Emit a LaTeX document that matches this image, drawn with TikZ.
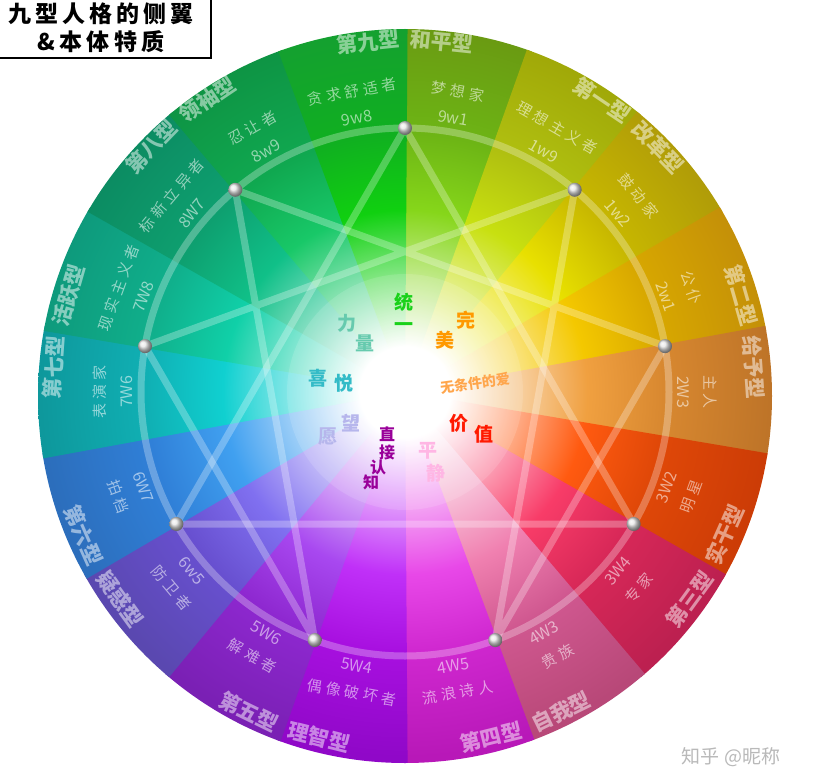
\documentclass[tikz,border=0pt]{standalone}
\usepackage{fontspec}
\newfontfamily\cjk{Noto Sans CJK SC}
\newfontfamily\cjkls[LetterSpace=26]{Noto Sans CJK SC}
\newfontfamily\cjkt[LetterSpace=18]{Noto Sans CJK SC}
\usetikzlibrary{calc}
\colorlet{wa}{white}\colorlet{wb}{white}\colorlet{wc}{white}
\pgfdeclareradialshading[wa,wb,wc]{wshade}{\pgfpoint{0bp}{0bp}}{%
  color(0bp)=(white); color(3bp)=(white); color(12bp)=(wa); color(17bp)=(wb); color(24bp)=(wc); color(50bp)=(wc)}
\newcommand\wedgeF[4]{%
  \definecolor{wa}{HTML}{#2}\definecolor{wb}{HTML}{#3}\definecolor{wc}{HTML}{#4}%
  \begin{scope}
    \clip (C) -- +({#1-90.4}:900) -- +({#1-69.6}:900) -- cycle;
    \shade[shading=wshade] (C) circle (380);
  \end{scope}}
\newcommand\wing[5]{%
  \node[wcode, rotate=#2] (c#5) at ($(C)+({#1-90}:278)$) {#3};
  \node[wname, rotate=#2] (n#5) at ($(C)+({#1-90}:305)$) {#4};}
\newcommand\rim[5]{%
  \node[rimlab, rotate=#2] (#5) at ($(C)+({#1-90}:#3)$) {#4};}
\tikzset{
  wcode/.style={font=\cjk\fontsize{16}{16}\selectfont, text=white, text opacity=0.55, inner sep=0},
  wname/.style={font=\cjkls\fontsize{15}{15}\selectfont, text=white, text opacity=0.55, inner sep=0},
  rimlab/.style={font=\cjk\bfseries\fontsize{21}{21}\selectfont, text=white, text opacity=0.5, inner sep=0},
  ess/.style={font=\cjk\bfseries\fontsize{19}{19}\selectfont, inner sep=0},
  starline/.style={draw=white, draw opacity=0.28, line width=7, line join=round},
  titletext/.style={font=\cjkt\bfseries\fontsize{23}{23}\selectfont, inner sep=0}
}
\begin{document}
\begin{tikzpicture}[x=1pt,y=-1pt]
\useasboundingbox (0,0) rectangle (815,784);
\fill[white] (0,0) rectangle (815,784);
\coordinate (C) at (405,392);
\begin{scope}
  \clip (405,396) circle (367);
  \wedgeF{0}{86D61A}{6DB515}{6A9A12}
  \wedgeF{20}{C8E010}{B0C010}{A0A808}
  \wedgeF{40}{E8E000}{C8B800}{B09C08}
  \wedgeF{60}{F4C800}{D8A800}{C49008}
  \wedgeF{80}{F0A040}{D88830}{BE7428}
  \wedgeF{100}{FF5A10}{E04808}{CC3C06}
  \wedgeF{120}{F83C68}{D82858}{BC2050}
  \wedgeF{140}{F080B0}{D05890}{B84878}
  \wedgeF{160}{E848E8}{D028D0}{B818B8}
  \wedgeF{180}{C030F8}{A810E0}{9008C8}
  \wedgeF{200}{A848F0}{8E28D0}{7A20B4}
  \wedgeF{220}{8070F0}{6850D0}{5A48B0}
  \wedgeF{240}{40A0F0}{3080D8}{2C6EBC}
  \wedgeF{260}{10D0D0}{10B0B4}{0E989C}
  \wedgeF{280}{10D0A8}{10B08C}{0E9A7C}
  \wedgeF{300}{10C088}{0EA070}{0C8C62}
  \wedgeF{320}{18C868}{10A850}{0E9444}
  \wedgeF{340}{10D010}{10B020}{14A030}
\end{scope}
\fill[white, fill opacity=0.13] (C) circle (118);
% star
\foreach \k in {0,...,8} \coordinate (P\k) at ($(C)+({40*\k-90}:264)$);
\draw[starline] (C) circle (264);
\draw[starline] (P0) -- (P3) -- (P6) -- cycle;
\draw[starline] (P1) -- (P4) -- (P2) -- (P8) -- (P5) -- (P7) -- cycle;
\foreach \k in {0,...,8} \shade[ball color=gray!20] (P\k) circle (7);
% wings
\wing{-10}{10}{9w8}{贪求舒适者}{98}
\wing{10}{-10}{9w1}{梦想家}{91}
\wing{30}{-30}{1w9}{理想主义者}{19}
\wing{50}{-50}{1w2}{鼓动家}{12}
\wing{70}{-70}{2w1}{公仆}{21}
\wing{90}{-90}{2W3}{主人}{23}
\wing{110}{70}{3W2}{明星}{32}
\wing{130}{50}{3W4}{专家}{34}
\wing{150}{30}{4W3}{贵族}{43}
\wing{170}{10}{4W5}{流浪诗人}{45}
\wing{190}{-10}{5W4}{偶像破坏者}{54}
\wing{210}{-30}{5W6}{解难者}{56}
\wing{230}{-50}{6w5}{防卫者}{65}
\wing{250}{-70}{6W7}{拍档}{67}
\wing{270}{90}{7W6}{表演家}{76}
\wing{290}{70}{7W8}{现实主义者}{78}
\wing{310}{50}{8W7}{标新立异者}{87}
\wing{330}{30}{8w9}{忍让者}{89}
% rim labels
\rim{-6}{6}{352}{第九型}{r9a}
\rim{6}{-6}{352}{和平型}{r9b}
\rim{34}{-34}{352}{第一型}{r1a}
\rim{46}{-46}{352}{改革型}{r1b}
\rim{74}{-74}{350}{第二型}{r2a}
\rim{86}{-86}{350}{给予型}{r2b}
\rim{114}{66}{350}{实干型}{r3b}
\rim{126}{54}{352}{第三型}{r3a}
\rim{154}{26}{356}{自我型}{r4b}
\rim{166}{14}{356}{第四型}{r4a}
\rim{194}{-14}{356}{理智型}{r5b}
\rim{206}{-26}{356}{第五型}{r5a}
\rim{234}{-54}{352}{疑惑型}{r6b}
\rim{246}{-66}{352}{第六型}{r6a}
\rim{274}{86}{352}{第七型}{r7a}
\rim{286}{74}{350}{活跃型}{r7b}
\rim{314}{46}{353}{第八型}{r8a}
\rim{326}{34}{353}{领袖型}{r8b}
% essences
\node[ess, text=green!80!black!90!white] (e9a) at (404,302) {统};
\node[ess, text=green!80!black!90!white] (e9b) at (404,327) {一};
\node[ess, text=cyan!40!green!60] (e8a) at (347,323) {力};
\node[ess, text=cyan!40!green!60] (e8b) at (365,343) {量};
\node[ess, text=orange!80!yellow] (e1a) at (466,320) {完};
\node[ess, text=orange!80!yellow] (e1b) at (445,340) {美};
\node[ess, text=orange!70!white, font=\cjk\bfseries\fontsize{14}{14}\selectfont, rotate=8] (e2) at (475,383) {无条件的爱};
\node[ess, text=red!80!orange] (e3a) at (459,423) {价};
\node[ess, text=red!80!orange] (e3b) at (484,434) {值};
\node[ess, text=pink!70!magenta!60] (e4a) at (428,451) {平};
\node[ess, text=pink!70!magenta!60] (e4b) at (436,473) {静};
\node[ess, text=violet!80!magenta, font=\cjk\bfseries\fontsize{16}{16}\selectfont] (e5a) at (387,434) {直};
\node[ess, text=violet!80!magenta, font=\cjk\bfseries\fontsize{16}{16}\selectfont] (e5b) at (387,452) {接};
\node[ess, text=violet!80!magenta, font=\cjk\bfseries\fontsize{16}{16}\selectfont] (e5c) at (378,467) {认};
\node[ess, text=violet!80!magenta, font=\cjk\bfseries\fontsize{16}{16}\selectfont] (e5d) at (371,482) {知};
\node[ess, text=blue!25!white!85!gray] (e6a) at (328,437) {愿};
\node[ess, text=blue!25!white!85!gray] (e6b) at (351,423) {望};
\node[ess, text=cyan!70!green!80] (e7a) at (318,378) {喜};
\node[ess, text=cyan!70!green!80] (e7b) at (344,383) {悦};
% title box
\draw[fill=white, line width=2] (-5,-5) rectangle (211,58);
\node[titletext] (t1) at (101,14) {九型人格的侧翼};
\node[titletext] (t2) at (101,42) {\&本体特质};
% watermark
\node[font=\cjk\fontsize{19}{19}\selectfont, text=gray!55, inner sep=0] (wm) at (731,757) {知乎 @昵称};
\end{tikzpicture}
\end{document}
